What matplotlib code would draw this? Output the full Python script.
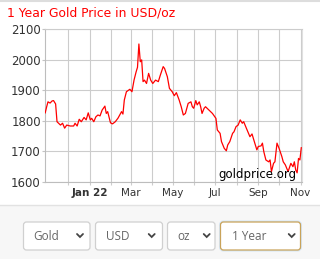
import numpy as np
import pandas as pd
import matplotlib
matplotlib.use("Agg")
import matplotlib.pyplot as plt
from matplotlib.patches import FancyBboxPatch, Rectangle

# gold price (day offset from 2022-01-01, USD/oz)
days_from_jan1 = [-64, -62, -60, -57, -54, -52, -49, -47, -42, -39, -36, -33, -28, -23,
                  -21, -18, -15, -12, -8, -5, -2, 1, 3, 6, 9, 12, 15, 18, 22, 24, 26,
                  30, 31, 33, 37, 41, 46, 48, 50, 53, 58, 61, 64, 67, 69, 71, 73, 75,
                  77, 79, 82, 85, 88, 91, 95, 99, 102, 106, 108, 112, 115, 119, 122,
                  125, 129, 132, 135, 138, 142, 146, 148, 150, 153, 155, 158, 160, 162,
                  165, 167, 172, 177, 182, 184, 188, 190, 194, 197, 199, 202, 206, 208,
                  211, 214, 217, 220, 222, 226, 231, 234, 238, 241, 243, 247, 249, 251,
                  254, 258, 260, 262, 265, 267, 270, 273, 277, 279, 282, 284, 286, 290,
                  293, 295, 297, 299, 301, 303, 305]
price_usd = [1826, 1845, 1862, 1858, 1865, 1866, 1855, 1797, 1786, 1792, 1776, 1786, 1783, 1783,
             1792, 1783, 1805, 1797, 1811, 1803, 1826, 1803, 1808, 1797, 1813, 1819, 1816, 1835,
             1848, 1824, 1830, 1794, 1792, 1790, 1797, 1809, 1830, 1822, 1868, 1895, 1903, 1895,
             1933, 1960, 1975, 2051, 1993, 1999, 1928, 1933, 1922, 1955, 1933, 1922, 1933, 1928,
             1950, 1977, 1971, 1944, 1906, 1895, 1882, 1892, 1868, 1846, 1819, 1824, 1857, 1862,
             1846, 1841, 1866, 1852, 1862, 1846, 1824, 1841, 1846, 1835, 1824, 1808, 1770, 1759,
             1732, 1710, 1702, 1721, 1732, 1759, 1764, 1781, 1786, 1803, 1792, 1797, 1775, 1748,
             1757, 1727, 1705, 1716, 1718, 1727, 1699, 1672, 1666, 1672, 1634, 1661, 1666, 1727,
             1710, 1683, 1666, 1656, 1645, 1634, 1661, 1650, 1666, 1639, 1630, 1677, 1672, 1712]

month_ticks = pd.date_range("2021-12-01", "2022-11-01", freq="MS")
month_labels = ["", "Jan 22", "", "Mar", "", "May", "", "Jul", "", "Sep", "", "Nov"]
y_ticks = [1600, 1700, 1800, 1900, 2000, 2100]
menu_items = ["Gold", "USD", "oz", "1 Year"]

W, H = 320, 259
jan1 = pd.Timestamp("2022-01-01")
dates = jan1 + pd.to_timedelta(days_from_jan1, unit="D")

fig = plt.figure(figsize=(W / 100, H / 100), dpi=100, facecolor="white")

# pixel-space overlay for the page furniture
bg = fig.add_axes([0, 0, 1, 1], zorder=-5)
bg.set_xlim(0, W)
bg.set_ylim(H, 0)
bg.axis("off")
bg.add_patch(Rectangle((0, 205), W, H - 205, color="#f7f7f7", lw=0))
bg.plot([0, W], [204.5, 204.5], color="#e2e2e2", lw=1)
bg.plot([0, W], [0.5, 0.5], color="#dddddd", lw=1.5)

boxes = [(23.5, 90), (95.5, 162.5), (167.5, 215), (220.5, 300.5)]
text_x = [33.3, 106, 177.3, 231.7]
chev_x = [80, 151.7, 206.7, 291.7]
for k, (x0, x1) in enumerate(boxes):
    last = k == len(boxes) - 1
    if last:
        bg.add_patch(FancyBboxPatch((x0, 222), x1 - x0, 28,
                                    boxstyle="round,pad=0,rounding_size=3",
                                    fc="none", ec="#d6e6f5", lw=2.2))
    bg.add_patch(FancyBboxPatch((x0, 222), x1 - x0, 28,
                                boxstyle="round,pad=0,rounding_size=3",
                                fc="white", ec="#c9a35a" if last else "#d0d0d0", lw=0.9))
    bg.text(text_x[k], 236, menu_items[k], fontsize=8.5, family="Open Sans",
            color="#666666", ha="left", va="center")
    cx = chev_x[k]
    bg.plot([cx - 3, cx, cx + 3], [234, 237, 234], color="#444444", lw=1.3,
            solid_capstyle="round", solid_joinstyle="miter")

fig.text(7 / W, 1 - 12.5 / H, "1 Year Gold Price in USD/oz", fontsize=8.9,
         color="#ff0000", ha="left", va="center")

# price chart
ax = fig.add_axes([45 / W, (H - 182) / H, 256.7 / W, 153 / H])
ax.set_facecolor("white")
ax.plot(dates, price_usd, color="#ff0000", lw=0.9, zorder=3)

ax.set_xlim(jan1 + pd.Timedelta(days=-64.3), jan1 + pd.Timedelta(days=305.6))
ax.set_ylim(1600, 2100)
ax.set_yticks(y_ticks)
ax.set_xticks(month_ticks, month_labels)
for lab in ax.get_xticklabels():
    if lab.get_text() == "Jan 22":
        lab.set_fontweight("bold")

ax.grid(True, color="#cccccc", lw=0.8)
ax.tick_params(axis="y", labelsize=8.5, labelcolor="#333333", length=2, pad=1,
               color="#c4c4c4")
ax.tick_params(axis="x", labelsize=7.5, labelcolor="#333333", length=2.5, pad=2,
               color="#cccccc")
for side in ["left", "bottom"]:
    ax.spines[side].set_color("#bdbdbd")
    ax.spines[side].set_linewidth(0.8)
ax.spines["top"].set_color("#cccccc")
ax.spines["top"].set_linewidth(0.8)
ax.spines["right"].set_color("#e0e0e0")
ax.spines["right"].set_linewidth(0.8)

ax.text(0.674, 0.046, "goldprice.org", transform=ax.transAxes, fontsize=8.5,
        color="black", ha="left", va="center", zorder=5)

fig.savefig("out.png", dpi=100, facecolor="white")
